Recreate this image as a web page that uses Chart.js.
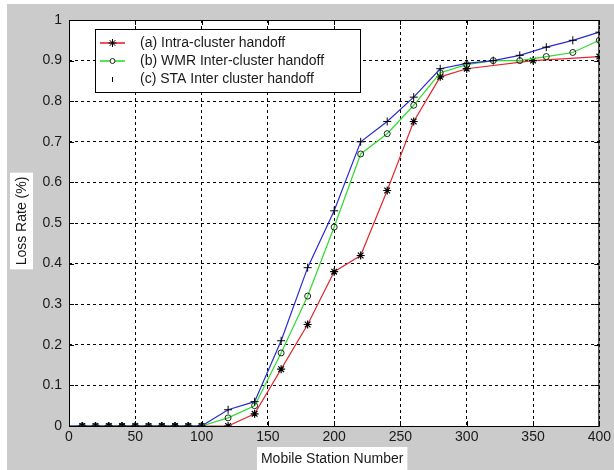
<!DOCTYPE html>
<html>
<head>
<meta charset="utf-8">
<script src="https://cdn.jsdelivr.net/npm/chart.js@4/dist/chart.umd.min.js"></script>
<style>
  html, body { margin: 0; padding: 0; background: #fff; }
  canvas { display: block; }
</style>
</head>
<body>
<canvas id="lossChart" width="614" height="470"></canvas>
<script>
// Data
const stationsA = [0, 10, 20, 30, 40, 50, 60, 70, 80, 90, 100, 120, 140, 160, 180, 200, 220, 240, 260, 280, 300, 350, 400];
const lossA = [0, 0, 0, 0, 0, 0, 0, 0, 0, 0, 0, 0, 0.03, 0.14, 0.25, 0.38, 0.42, 0.58, 0.75, 0.86, 0.88, 0.90, 0.91];

const stationsBC = [0, 10, 20, 30, 40, 50, 60, 70, 80, 90, 100, 120, 140, 160, 180, 200, 220, 240, 260, 280, 300, 320, 340, 360, 380, 400];
const lossB = [0, 0, 0, 0, 0, 0, 0, 0, 0, 0, 0, 0.02, 0.05, 0.18, 0.32, 0.49, 0.67, 0.72, 0.79, 0.87, 0.89, 0.90, 0.90, 0.91, 0.92, 0.95];
const lossC = [0, 0, 0, 0, 0, 0, 0, 0, 0, 0, 0, 0.04, 0.06, 0.21, 0.39, 0.53, 0.70, 0.75, 0.81, 0.88, 0.893, 0.90, 0.913, 0.933, 0.95, 0.97];

const seriesLabels = ['(a) Intra-cluster handoff', '(b) WMR Inter-cluster handoff', '(c) STA Inter cluster handoff'];
const xTicks = [0, 50, 100, 150, 200, 250, 300, 350, 400];
const yTicks = [0, 0.1, 0.2, 0.3, 0.4, 0.5, 0.6, 0.7, 0.8, 0.9, 1];

const FONT = '"Liberation Sans", Arial, sans-serif';
const RED = '#e0282e', GREEN = '#2edc2e', BLUE = '#2a2ad2';
const toPoints = (xs, ys) => xs.map((x, i) => ({ x: x, y: ys[i] }));
const hideAtZero = r => ctx => (ctx.raw && ctx.raw.x === 0 ? 0 : r);

// figure background, white axes area, frame, inner ticks, legend and axis titles
const matlabLook = {
  id: 'matlabLook',
  beforeDraw(chart) {
    const c = chart.ctx, a = chart.chartArea;
    c.save();
    c.fillStyle = '#fff';
    c.fillRect(0, 0, chart.width, chart.height);
    c.fillStyle = '#cbcbcb';
    c.fillRect(7, 4, chart.width - 7, chart.height - 4);
    c.fillStyle = '#fff';
    c.fillRect(a.left, a.top, a.right - a.left, a.bottom - a.top);
    c.restore();
  },
  afterDraw(chart) {
    const c = chart.ctx, a = chart.chartArea;
    const xs = chart.scales.x, ys = chart.scales.y;
    c.save();
    c.strokeStyle = '#000';
    c.lineWidth = 1;
    c.setLineDash([]);
    c.strokeRect(a.left + 0.5, a.top + 0.5, a.right - a.left - 1, a.bottom - a.top);
    c.beginPath();
    xTicks.forEach(v => {
      const px = Math.round(xs.getPixelForValue(v)) + 0.5;
      c.moveTo(px, a.bottom); c.lineTo(px, a.bottom - 5);
      c.moveTo(px, a.top); c.lineTo(px, a.top + 5);
    });
    yTicks.forEach(v => {
      const py = Math.round(ys.getPixelForValue(v)) + 0.5;
      c.moveTo(a.left, py); c.lineTo(a.left + 5, py);
      c.moveTo(a.right, py); c.lineTo(a.right - 5, py);
    });
    c.stroke();

    // legend
    const lx = 95, ly = 29, lw = 265, lh = 63;
    c.fillStyle = '#fff';
    c.fillRect(lx, ly, lw, lh);
    c.strokeStyle = '#000';
    c.strokeRect(lx + 0.5, ly + 0.5, lw, lh);
    const rows = [43, 61, 79];
    const mx = 112.5;

    // row a: red line with star
    let ry = rows[0];
    c.lineWidth = 1.6;
    c.strokeStyle = RED;
    c.beginPath(); c.moveTo(100, ry); c.lineTo(125, ry); c.stroke();
    c.lineWidth = 1;
    c.strokeStyle = '#000';
    c.beginPath();
    for (let k = 0; k < 4; k++) {
      const ang = k * Math.PI / 4;
      c.moveTo(mx - 4 * Math.cos(ang), ry - 4 * Math.sin(ang));
      c.lineTo(mx + 4 * Math.cos(ang), ry + 4 * Math.sin(ang));
    }
    c.stroke();

    // row b: green line with circle
    ry = rows[1];
    c.lineWidth = 1.6;
    c.strokeStyle = GREEN;
    c.beginPath(); c.moveTo(100, ry); c.lineTo(125, ry); c.stroke();
    c.lineWidth = 1;
    c.strokeStyle = '#1a2a1a';
    c.fillStyle = '#fff';
    c.beginPath(); c.arc(mx, ry, 2.5, 0, Math.PI * 2); c.fill(); c.stroke();

    // row c: only a small tick is visible
    ry = rows[2];
    c.strokeStyle = '#000';
    c.beginPath(); c.moveTo(mx, ry - 2); c.lineTo(mx, ry + 3); c.stroke();

    c.fillStyle = '#1a1a1a';
    c.font = '14px ' + FONT;
    c.textBaseline = 'middle';
    c.textAlign = 'left';
    rows.forEach((r, i) => c.fillText(seriesLabels[i], 140, r));

    // axis titles with white boxes
    const xt = 'Mobile Station Number';
    const xw = c.measureText(xt).width;
    const xc = (a.left + a.right) / 2 - 2;
    c.fillStyle = '#fff';
    c.fillRect(xc - xw / 2 - 4, 447, xw + 8, 23);
    c.fillStyle = '#1a1a1a';
    c.textAlign = 'center';
    c.fillText(xt, xc, 459);

    const yt = 'Loss Rate (%)';
    const yw = c.measureText(yt).width;
    const yc = (a.top + a.bottom) / 2 - 2;
    c.fillStyle = '#fff';
    c.fillRect(10, yc - yw / 2 - 4, 23, yw + 8);
    c.translate(22, yc);
    c.rotate(-Math.PI / 2);
    c.fillStyle = '#1a1a1a';
    c.fillText(yt, 0, 0);
    c.restore();
  }
};

const ctx = document.getElementById('lossChart').getContext('2d');
const lossChart = new Chart(ctx, {
  type: 'line',
  data: {
    datasets: [
      {
        label: seriesLabels[2],
        data: toPoints(stationsBC, lossC),
        borderColor: BLUE,
        borderWidth: 1.2,
        pointStyle: 'cross',
        pointRadius: hideAtZero(4),
        pointBorderColor: '#000',
        pointBorderWidth: 1,
        tension: 0
      },
      {
        label: seriesLabels[1],
        data: toPoints(stationsBC, lossB),
        borderColor: GREEN,
        borderWidth: 1.2,
        pointStyle: 'circle',
        pointRadius: hideAtZero(3),
        pointBorderColor: '#1a2a1a',
        pointBackgroundColor: 'rgba(0,0,0,0)',
        pointBorderWidth: 1,
        tension: 0
      },
      {
        label: seriesLabels[0],
        data: toPoints(stationsA, lossA),
        borderColor: RED,
        borderWidth: 1.2,
        pointStyle: 'star',
        pointRadius: hideAtZero(4),
        pointBorderColor: '#000',
        pointBorderWidth: 1.2,
        tension: 0
      }
    ]
  },
  options: {
    responsive: false,
    animation: false,
    devicePixelRatio: 1,
    layout: { padding: { left: 0, top: 20, right: 14, bottom: 0 } },
    plugins: { legend: { display: false }, tooltip: { enabled: false } },
    scales: {
      x: {
        type: 'linear',
        min: 0,
        max: 400,
        afterFit: s => { s.height = 44; },
        afterBuildTicks: s => { s.ticks = xTicks.map(v => ({ value: v })); },
        ticks: { color: '#1a1a1a', font: { family: FONT, size: 14 }, padding: 3, maxRotation: 0 },
        grid: { color: '#000', lineWidth: 1, drawTicks: false },
        border: { display: false, dash: [3, 3] }
      },
      y: {
        min: 0,
        max: 1,
        afterFit: s => { s.width = 69; },
        afterBuildTicks: s => { s.ticks = yTicks.map(v => ({ value: v })); },
        ticks: {
          color: '#1a1a1a',
          font: { family: FONT, size: 14 },
          padding: 7,
          callback: v => (v === 0 || v === 1 ? String(v) : v.toFixed(1))
        },
        grid: { color: '#000', lineWidth: 1, drawTicks: false },
        border: { display: false, dash: [3, 3] }
      }
    }
  },
  plugins: [matlabLook]
});
</script>
</body>
</html>
